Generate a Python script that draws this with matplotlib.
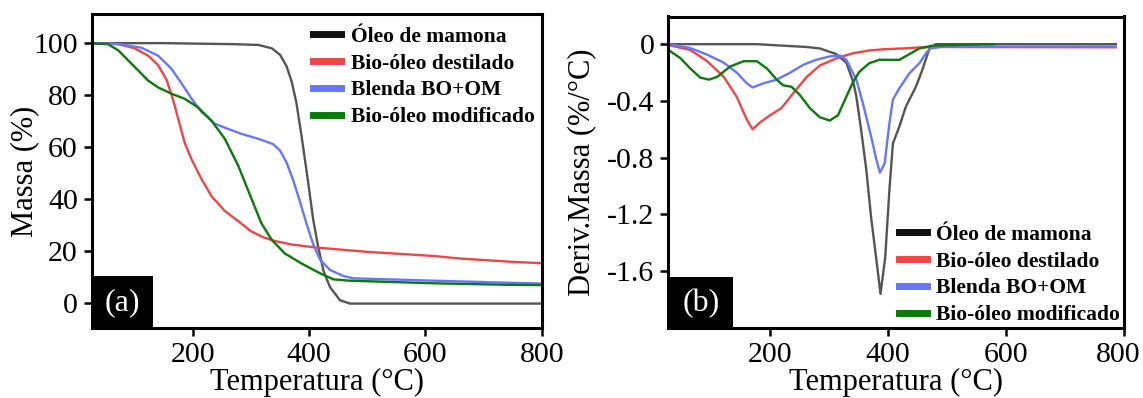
import numpy as np
import matplotlib
matplotlib.use("Agg")
import matplotlib.pyplot as plt
import matplotlib.transforms as mtransforms
from matplotlib.patches import Rectangle

plt.rcParams['font.family'] = ['Liberation Serif', 'DejaVu Serif']
plt.rcParams['axes.unicode_minus'] = False

labels = ["Óleo de mamona", "Bio-óleo destilado", "Blenda BO+OM", "Bio-óleo modificado"]
colors = ['#555555', '#f04545', '#6677ff', '#0a7a0a']
legend_colors = ['#111111', '#f04545', '#6677ff', '#0a7a0a']

# TGA (a) #################################################################
tga_om_x = [26, 150, 272, 313, 336, 350, 361, 370, 378, 387, 396, 407, 416, 425, 436, 453, 470, 600, 800]
tga_om_y = [99.8, 99.8, 99.4, 99.1, 97.8, 95.3, 91, 85, 77, 64, 50, 32, 21, 12, 6, 1, -0.3, -0.3, -0.3]

tga_bo_x = [26, 72, 100, 123, 140, 155, 166, 175, 186, 198, 215, 232, 255, 278, 300, 320, 340, 370, 410, 499, 614, 660, 746, 800]
tga_bo_y = [99.8, 99.4, 97.8, 95, 91.4, 85.6, 78, 70.5, 61.5, 55, 47.5, 41, 35.3, 31.4, 27.5, 25.3, 23.8, 22.4, 21.3, 19.6, 18, 17, 15.8, 15.2]

tga_bl_x = [26, 72, 112, 140, 163, 181, 198, 215, 238, 261, 284, 313, 338, 350, 361, 372, 384, 396, 407, 419, 436, 459, 476, 614, 746, 800]
tga_bl_y = [99.8, 99.5, 98, 95, 90, 84.2, 78.4, 73.3, 68.8, 66.8, 64.9, 63, 61, 58.5, 54, 47.5, 39, 30, 22.5, 16.5, 12.6, 10.3, 9.4, 8.5, 7.7, 7.4]

tga_bm_x = [26, 54, 72, 89, 106, 123, 140, 164, 186, 209, 232, 255, 278, 301, 318, 336, 358, 387, 419, 442, 470, 614, 746, 800]
tga_bm_y = [99.8, 99.4, 97, 93.1, 89.3, 85.4, 82.8, 80.3, 78.4, 75.1, 70, 63, 52.7, 39.9, 30.5, 24.1, 19, 15.1, 11.3, 9, 8.5, 7.5, 6.9, 6.8]

# DTG (b) #################################################################
dtg_om_x = [27, 177, 262, 284, 312, 329, 341, 346, 354, 363, 371, 380, 387, 395, 402, 408, 419, 430, 447, 458, 470, 481, 786]
dtg_om_y = [0, 0, -0.02, -0.03, -0.07, -0.13, -0.27, -0.37, -0.6, -0.89, -1.22, -1.52, -1.76, -1.5, -1.03, -0.7, -0.58, -0.44, -0.3, -0.18, -0.03, 0, 0]

dtg_bo_x = [27, 31, 64, 93, 121, 143, 160, 170, 183, 200, 219, 239, 262, 284, 312, 340, 368, 396, 425, 453, 481, 786]
dtg_bo_y = [0, -0.01, -0.04, -0.12, -0.23, -0.37, -0.53, -0.6, -0.55, -0.5, -0.45, -0.345, -0.23, -0.15, -0.1, -0.064, -0.044, -0.035, -0.03, -0.023, -0.02, -0.022]

dtg_bl_x = [27, 64, 93, 121, 143, 160, 170, 189, 211, 234, 256, 278, 301, 318, 329, 346, 357, 371, 380, 386, 394, 402, 408, 419, 436, 453, 464, 472, 491, 786]
dtg_bl_y = [0, -0.027, -0.074, -0.13, -0.2, -0.275, -0.305, -0.275, -0.25, -0.2, -0.145, -0.11, -0.086, -0.08, -0.11, -0.25, -0.415, -0.65, -0.815, -0.905, -0.84, -0.56, -0.39, -0.31, -0.205, -0.134, -0.064, -0.03, -0.018, -0.016]

dtg_bm_x = [27, 48, 64, 81, 96, 110, 132, 155, 177, 194, 211, 222, 236, 250, 267, 284, 301, 315, 329, 340, 351, 368, 385, 419, 436, 453, 475, 580]
dtg_bm_y = [-0.04, -0.1, -0.17, -0.235, -0.25, -0.23, -0.157, -0.12, -0.12, -0.17, -0.25, -0.29, -0.3, -0.357, -0.45, -0.515, -0.538, -0.5, -0.37, -0.27, -0.195, -0.134, -0.11, -0.11, -0.07, -0.03, -0.01, 0]

tga = [(tga_om_x, tga_om_y), (tga_bo_x, tga_bo_y), (tga_bl_x, tga_bl_y), (tga_bm_x, tga_bm_y)]
dtg = [(dtg_om_x, dtg_om_y), (dtg_bo_x, dtg_bo_y), (dtg_bl_x, dtg_bl_y), (dtg_bm_x, dtg_bm_y)]

W, H = 1143, 398
fig = plt.figure(figsize=(W/100, H/100), dpi=100)
ax_a = fig.add_axes([91.7/W, (H-328.3)/H, 450/W, 314.3/H])
ax_b = fig.add_axes([668.3/W, (H-328)/H, 455.7/W, 311.5/H])


def style(ax, tag, box_w):
    for s in ax.spines.values():
        s.set_linewidth(2.2)
    ax.tick_params(direction='out', length=6, width=1.8, labelsize=21.5, pad=4)
    ax.add_patch(Rectangle((0, 0), box_w, 0.165, transform=ax.transAxes,
                           facecolor='black', edgecolor='none', zorder=5))
    ax.text(box_w/2, 0.08, tag, transform=ax.transAxes, color='white', fontsize=23,
            ha='center', va='center', zorder=6)
    ax.set_xlabel("Temperatura (°C)", fontsize=22, labelpad=0)


for (x, y), c, lab in zip(tga, colors, labels):
    ax_a.plot(x, y, color=c, lw=1.7, label=lab)
ax_a.set_xlim(26, 800)
ax_a.set_ylim(-9.8, 111)
ax_a.set_xticks([200, 400, 600, 800])
ax_a.set_yticks([0, 20, 40, 60, 80, 100])
ax_a.set_ylabel("Massa (%)", fontsize=22, labelpad=-4)
style(ax_a, "(a)", 0.136)

for (x, y), c, lab in zip(dtg, colors, labels):
    ax_b.plot(x, y, color=c, lw=1.7, label=lab)
ax_b.set_xlim(27, 800)
ax_b.set_ylim(-2.0, 0.195)
ax_b.set_xticks([200, 400, 600, 800])
ax_b.set_yticks([0, -0.4, -0.8, -1.2, -1.6])
ax_b.set_yticklabels(["0", "-0.4", "-0.8", "-1.2", "-1.6"])
ax_b.set_ylabel("Deriv.Massa (%/°C)", fontsize=22, labelpad=8)
style(ax_b, "(b)", 0.143)

# last tick label of (b) sits a bit to the left in the original
lab800 = ax_b.xaxis.get_major_ticks()[-1].label1
lab800.set_transform(lab800.get_transform() + mtransforms.ScaledTranslation(-6/100, 0, fig.dpi_scale_trans))

for ax, loc, anchor in [(ax_a, 'upper right', (1.013, 1.0)), (ax_b, 'lower right', (1.02, -0.032))]:
    leg = ax.legend(loc=loc, bbox_to_anchor=anchor, frameon=False,
                    prop={'weight': 'bold', 'size': 15.5}, handlelength=1.3,
                    handletextpad=0.45, labelspacing=0.31, borderaxespad=0.2)
    for h, c in zip(leg.get_lines(), legend_colors):
        h.set_color(c)
        h.set_linewidth(5)

fig.savefig("out.png", dpi=100)
